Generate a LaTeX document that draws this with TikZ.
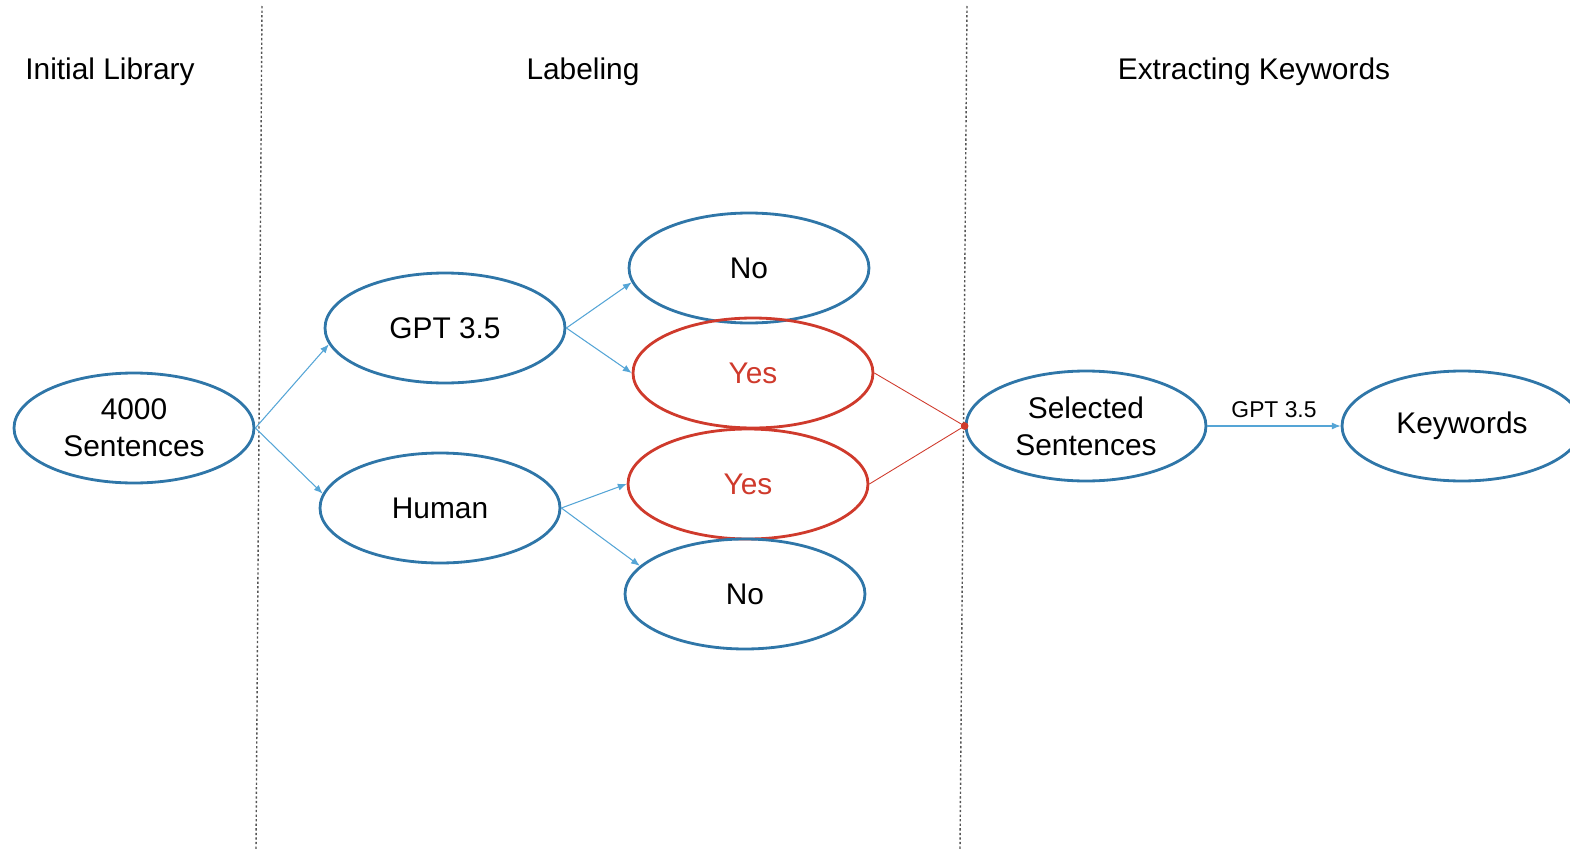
\documentclass[tikz,border=0pt]{standalone}
\usepackage{fontspec}
\setmainfont{Liberation Sans}
\usetikzlibrary{arrows.meta, shapes.geometric}
\definecolor{RingBlue}{HTML}{2F76A8}
\definecolor{FlowBlue}{HTML}{55A5D6}
\definecolor{PickRed}{HTML}{CF3A2C}
\definecolor{SplitGray}{HTML}{555555}

\begin{document}
\begin{tikzpicture}[
    x=0.02cm, y=-0.02cm,
    font=\fontsize{17}{20}\selectfont,
    stage/.style={
      ellipse,
      draw=RingBlue,
      line width=1.6pt,
      minimum width=4.8cm,
      minimum height=2.2cm,
      inner sep=0pt,
      align=center,
    },
    picked/.style={
      stage,
      draw=PickRed,
      text=PickRed,
    },
    flow/.style={
      draw=FlowBlue,
      line width=0.6pt,
      -{Latex[length=5pt,width=4pt]},
    },
    merge/.style={
      draw=PickRed,
      line width=0.5pt,
    },
    split/.style={
      draw=SplitGray,
      line width=0.8pt,
      dash pattern=on 1.3pt off 1.3pt,
    },
    head/.style={
      font=\fontsize{17}{20}\selectfont,
    },
  ]
    \clip (0,0) rectangle (1570,852);
    \useasboundingbox (0,0) rectangle (1570,852);

    % column titles
    \node[head] (t1) at (110,72) {Initial Library};
    \node[head] (t2) at (583,72) {Labeling};
    \node[head] (t3) at (1254,72) {Extracting Keywords};

    % column separators
    \coordinate (s1a) at (262,6);
    \coordinate (s1b) at (256,850);
    \coordinate (s2a) at (967,6);
    \coordinate (s2b) at (960,850);
    \draw[split] (s1a) -- (s1b);
    \draw[split] (s2a) -- (s2b);

    \node[stage] (src) at (134,428) {4000\\[1pt]Sentences};
    \node[stage] (gpt) at (445,328) {GPT 3.5};
    \node[stage] (hum) at (440,508) {Human};

    \node[stage] (no1) at (749,268) {No};
    \node[picked] (yes1) at (753,373) {Yes};
    \node[picked] (yes2) at (748,484) {Yes};
    \node[stage] (no2) at (745,594) {No};

    \node[stage] (sel) at (1086,426) {Selected\\[1pt]Sentences};
    \node[stage] (kw) at (1462,426) {Keywords};

    \draw[flow] (src.east) -- (gpt.188);
    \draw[flow] (src.east) -- (hum.173);
    \draw[flow] (gpt.east) -- (no1.187);
    \draw[flow] (gpt.east) -- (yes1.west);
    \draw[flow] (hum.east) -- (yes2.west);
    \draw[flow] (hum.east) -- (no2.165);

    \draw[merge] (yes1.east) -- (sel.west);
    \draw[merge] (yes2.east) -- (sel.west);
    \fill[PickRed] (sel.west) circle (2.2pt);

    \draw[flow] (sel.east) -- node[above=1pt, font=\fontsize{13}{15}\selectfont] {GPT 3.5} (kw.west);
  \end{tikzpicture}
\end{document}
